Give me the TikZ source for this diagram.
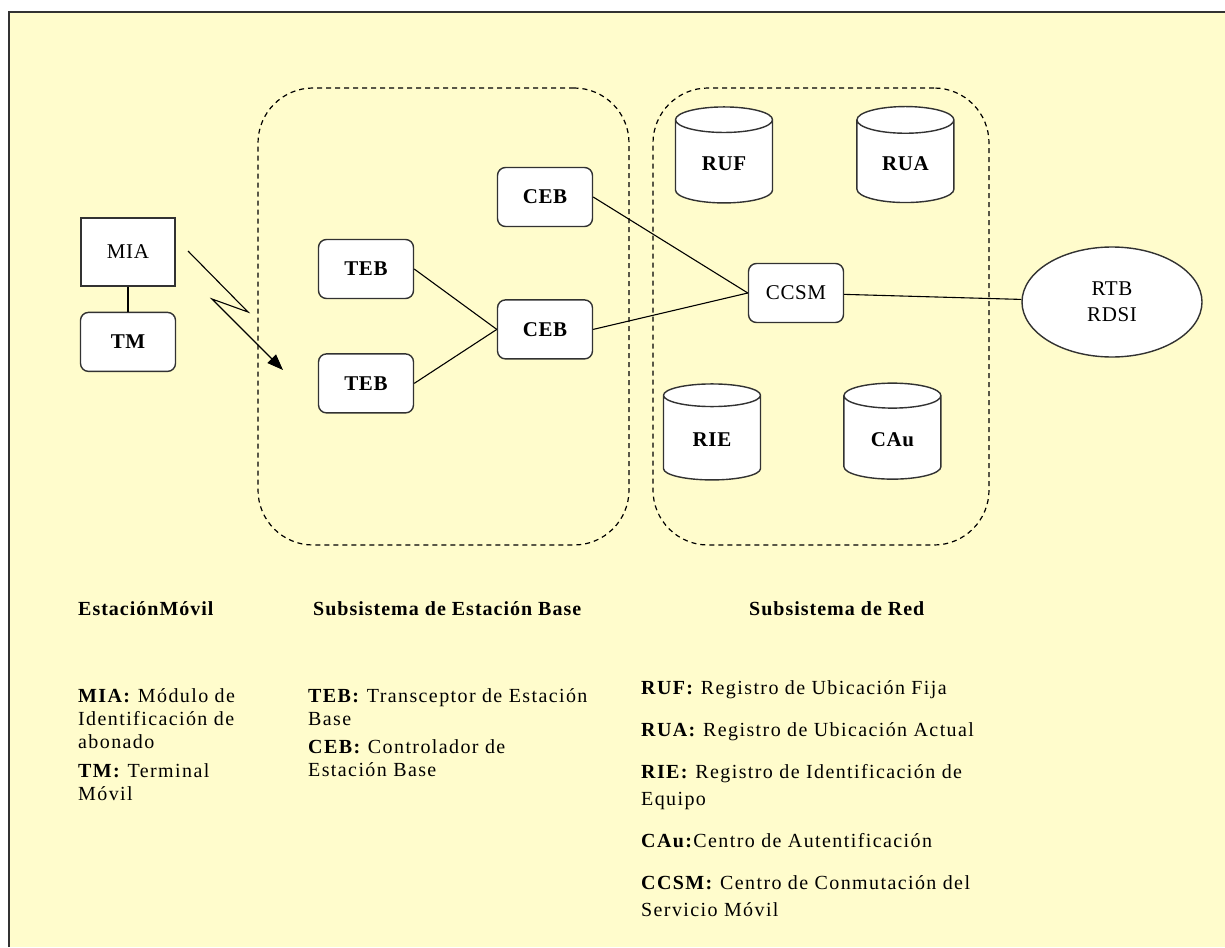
\documentclass[tikz,border=0pt]{standalone}
\usepackage{fontspec}
\setmainfont{Liberation Serif}
\newfontfamily\legendfont[LetterSpace=7]{Liberation Serif}
\newfontfamily\titlefont[LetterSpace=5]{Liberation Serif}
\newfontfamily\unitfont[LetterSpace=3]{Liberation Serif}
\usetikzlibrary{shapes.geometric,arrows.meta,positioning}
\definecolor{paper}{RGB}{255,252,204}
\definecolor{edge}{RGB}{50,50,50}
\begin{document}
\begin{tikzpicture}[
    x=1pt, y=-1pt,
    unit/.style={rectangle, draw=edge, line width=1.4pt, fill=white, rounded corners=8pt, minimum width=95pt, minimum height=59pt, font=\unitfont\fontsize{21}{24}\selectfont\bfseries},
    plainbox/.style={rectangle, draw=edge, line width=1.4pt, fill=white, minimum width=94pt, minimum height=68pt, font=\unitfont\fontsize{21}{24}\selectfont},
    dbstore/.style={cylinder, shape border rotate=90, aspect=0.5, draw=edge, line width=1.4pt, fill=white, minimum width=97pt, minimum height=96pt, font=\unitfont\fontsize{21}{24}\selectfont\bfseries},
    netcloud/.style={ellipse, draw=edge, line width=1.4pt, fill=white, minimum width=180pt, minimum height=110pt, align=center, font=\unitfont\fontsize{21}{26}\selectfont},
    groupbox/.style={rectangle, draw, dashed, dash pattern=on 5pt off 4pt, line width=1.2pt, rounded corners=55pt},
    title/.style={anchor=west, inner sep=0pt, font=\titlefont\fontsize{20}{23}\selectfont\bfseries},
    legend/.style={anchor=north west, inner sep=0pt, align=left, font=\legendfont\fontsize{20}{23}\selectfont},
    link/.style={line width=1.1pt}
]
\useasboundingbox (0,0) rectangle (1225,947);
\fill[white] (0,0) rectangle (1225,947);
\fill[paper] (9,12) rectangle (1225,947);
\draw[edge, line width=2pt] (9,947) -- (9,12) -- (1225,12);

% subsystems
\node[groupbox, minimum width=371pt, minimum height=457pt] (bss) at (443.5,316.5) {};
\node[groupbox, minimum width=336pt, minimum height=457pt] (nss) at (821,316.5) {};

% mobile station
\node[plainbox] (mia) at (128,252) {MIA};
\node[unit, below=25pt of mia] (tm) {TM};

% base station
\node[unit] (teb1) at (366,269) {TEB};
\node[unit, below=54pt of teb1] (teb2) {TEB};
\node[unit] (ceb1) at (545,197) {CEB};
\node[unit, below=72pt of ceb1] (ceb2) {CEB};

% network
\node[unit, font=\unitfont\fontsize{21}{24}\selectfont] (ccsm) at (796,293) {CCSM};
\node[dbstore] (ruf) at (724,164) {RUF};
\node[dbstore, right=83pt of ruf] (rua) {RUA};
\node[dbstore] (rie) at (712,440) {RIE};
\node[dbstore, right=82pt of rie] (cau) {CAu};
\node[netcloud] (rtb) at (1112,302) {RTB\\RDSI};

% radio link
\coordinate (rs) at (188,251);
\coordinate (rt) at (283,370);
\draw[link, -{Triangle[length=16pt,width=12pt]}] (rs) -- (248,312) -- (212,299) -- (rt);

\draw[link] (mia) -- (tm);
\draw[link] (teb1.east) -- (ceb2.west);
\draw[link] (teb2.east) -- (ceb2.west);
\draw[link] (ceb1.east) -- (ccsm.west);
\draw[link] (ceb2.east) -- (ccsm.west);
\draw[link] (ccsm) -- (rtb);

% titles
\node[title] (tms) at (78,609) {EstaciónMóvil};
\node[title] (tbss) at (313,609) {Subsistema de Estación Base};
\node[title] (tnss) at (749,609) {Subsistema de Red};

% legend
\node[legend] (lms) at (78,688) {\textbf{MIA:} Módulo de\\ Identificación de\\ abonado\\[6pt] \textbf{TM:} Terminal\\ Móvil};
\node[legend] (lbss) at (308,688) {\textbf{TEB:} Transceptor de Estación\\ Base\\[5pt] \textbf{CEB:} Controlador de\\ Estación Base};
\node[legend, font=\legendfont\fontsize{20}{27}\selectfont] (lnss) at (641,680) {\textbf{RUF:} Registro de Ubicación Fija\\[15pt] \textbf{RUA:} Registro de Ubicación Actual\\[15pt] \textbf{RIE:} Registro de Identificación de\\ Equipo\\[15pt] \textbf{CAu:}Centro de Autentificación\\[15pt] \textbf{CCSM:} Centro de Conmutación del\\ Servicio Móvil};
\end{tikzpicture}
\end{document}
